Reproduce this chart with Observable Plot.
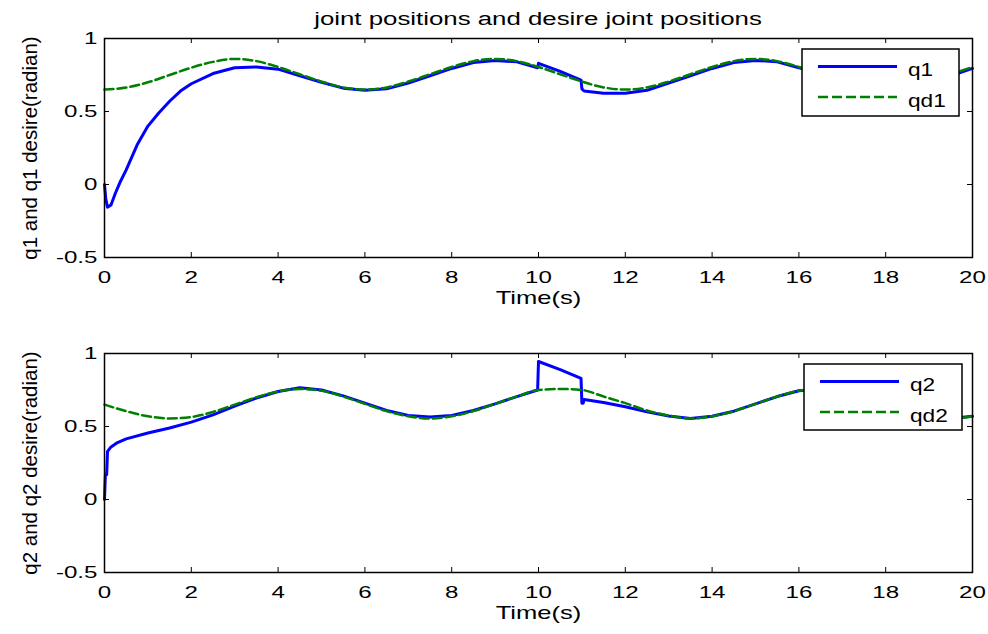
<!DOCTYPE html>
<html>
<head>
<meta charset="utf-8">
<script src="https://cdn.jsdelivr.net/npm/d3@7"></script>
<script src="https://cdn.jsdelivr.net/npm/@observablehq/plot@0.6"></script>
<style>
  body { margin: 0; background: #fff; }
  #wrap { position: relative; width: 988px; height: 634px; background: #fff;
          font-family: "Liberation Sans", Arial, sans-serif; }
  #wrap svg { position: absolute; left: 0; }
</style>
</head>
<body>
<div id="wrap"></div>
<script>
// ---------- chart text ----------
const title = "joint positions and desire joint positions";
const xLabel = "Time(s)";
const yLabels = ["q1 and q1 desire(radian)", "q2 and q2 desire(radian)"];
const legend1 = ["q1", "qd1"];
const legend2 = ["q2", "qd2"];

// ---------- ticks ----------
const xTicks = [0, 2, 4, 6, 8, 10, 12, 14, 16, 18, 20];
const yTicks = [-0.5, 0, 0.5, 1];
const yTickLabels = ["-0.5", "0", "0.5", "1"];

// ---------- desired trajectories (sampled every 0.5 s) ----------
const tGrid = [0,0.5,1,1.5,2,2.5,3,3.5,4,4.5,5,5.5,6,6.5,7,7.5,8,8.5,9,9.5,10,
               10.5,11,11.5,12,12.5,13,13.5,14,14.5,15,15.5,16,16.5,17,17.5,18,18.5,19,19.5,20];
const qd1 = [0.650,0.664,0.700,0.750,0.800,0.840,0.860,0.845,0.805,0.755,0.705,0.665,0.650,
             0.665,0.705,0.755,0.805,0.845,0.860,0.845,0.805,0.755,0.705,0.665,0.650,
             0.665,0.705,0.755,0.805,0.845,0.860,0.845,0.805,0.755,0.705,0.665,0.650,
             0.665,0.705,0.755,0.805];
const qd2 = [0.650,0.605,0.570,0.555,0.565,0.600,0.650,0.700,0.740,0.757,0.745,0.705,0.655,
             0.605,0.570,0.555,0.570,0.605,0.655,0.705,0.750,0.757,0.750,0.705,0.660,
             0.610,0.575,0.555,0.570,0.605,0.655,0.705,0.745,0.757,0.745,0.705,0.655,
             0.605,0.570,0.555,0.570];

// ---------- actual joint positions ----------
const tQ1 = [0,0.03,0.07,0.15,0.25,0.35,0.5,0.75,1,1.25,1.5,1.75,2,2.5,3,3.5,4,4.5,5,5.5,6,
             6.5,7,7.5,8,8.5,9,9.5,9.98,10,10.5,10.98,11,11.05,11.5,12,12.5,13,13.5,14,14.5,
             15,15.5,16,16.5,17,17.5,18,18.5,19,19.5,20];
const q1 = [0,-0.10,-0.155,-0.14,-0.06,0.01,0.10,0.27,0.40,0.49,0.57,0.64,0.69,0.76,0.80,0.805,
            0.79,0.745,0.70,0.66,0.645,0.655,0.695,0.745,0.795,0.835,0.85,0.84,0.80,0.83,0.775,
            0.715,0.655,0.64,0.625,0.625,0.645,0.695,0.745,0.795,0.835,0.85,0.84,0.80,0.75,0.70,
            0.66,0.645,0.655,0.695,0.745,0.795];
const tQ2 = [0,0.02,0.05,0.07,0.15,0.3,0.5,1,1.5,2,2.5,3,3.5,4,4.5,5,5.5,6,6.5,7,7.5,8,8.5,9,
             9.5,9.98,10,10.5,10.98,11,11.03,11.05,11.5,12,12.5,13,13.5,14,14.5,15,15.5,16,
             16.5,17,17.5,18,18.5,19,19.5,20];
const q2 = [0,0.17,0.17,0.33,0.36,0.39,0.415,0.455,0.49,0.53,0.58,0.64,0.695,0.74,0.765,0.75,
            0.71,0.66,0.61,0.575,0.565,0.575,0.61,0.655,0.705,0.75,0.945,0.89,0.83,0.66,0.66,
            0.685,0.665,0.635,0.60,0.572,0.555,0.57,0.605,0.655,0.705,0.745,0.757,0.745,0.705,
            0.655,0.605,0.57,0.555,0.57];

const BLUE = "#0000ff", GREEN = "#008000";
const FONT = "Liberation Sans, Arial, Helvetica, sans-serif";
const SX = 1.42; // horizontal stretch of the reference text
const W = 988, H = 310, ML = 104, MR = 16, MT = 38, MB = 53;
const FW = W - ML - MR, FH = H - MT - MB, TK = 5;

function panel(tA, A, tD, D, ylab) {
  const svg = Plot.plot({
    width: W, height: H,
    marginLeft: ML, marginRight: MR, marginTop: MT, marginBottom: MB,
    x: {domain: [0, 20]},
    y: {domain: [-0.5, 1]},
    style: {fontFamily: FONT, fontSize: "17px", color: "black", background: "transparent", overflow: "visible"},
    marks: [
      Plot.line(tA.map((t, i) => [t, A[i]]), {stroke: BLUE, strokeWidth: 3, strokeLinejoin: "round"}),
      Plot.line(tD.map((t, i) => [t, D[i]]), {stroke: GREEN, strokeWidth: 2.5, strokeDasharray: "9,4", curve: "monotone-x"}),
      // inward tick marks on all four sides
      Plot.tickX(xTicks, {x: d => d, stroke: "black", strokeWidth: 1, insetTop: FH - TK}),
      Plot.tickX(xTicks, {x: d => d, stroke: "black", strokeWidth: 1, insetBottom: FH - TK}),
      Plot.tickY(yTicks, {y: d => d, stroke: "black", strokeWidth: 1, insetRight: FW - TK}),
      Plot.tickY(yTicks, {y: d => d, stroke: "black", strokeWidth: 1, insetLeft: FW - TK}),
      Plot.frame({stroke: "black", strokeWidth: 1.5}),
      Plot.axisX({ticks: xTicks, tickSize: 0, tickPadding: 13, fontSize: 17, label: null, tickFormat: d => String(d)}),
      Plot.axisY({ticks: yTicks, tickSize: 0, tickPadding: 7, fontSize: 17, label: null,
                  tickFormat: d => yTickLabels[yTicks.indexOf(d)]}),
      Plot.text([xLabel], {frameAnchor: "bottom", dy: 46, fontSize: 18, fill: "black"}),
      Plot.text([ylab], {frameAnchor: "left", textAnchor: "middle", dx: -74, rotate: -90, fontSize: 20.5, fill: "black"})
    ]
  });
  svg.querySelectorAll("text").forEach(t => {
    const tr = t.getAttribute("transform") || "";
    if (!tr.includes("rotate") && !(t.parentNode.getAttribute("transform") || "").includes("rotate")) {
      t.setAttribute("transform", tr + ` scale(${SX},1)`);
    }
  });
  return svg;
}

const wrap = document.getElementById("wrap");
const p1 = panel(tQ1, q1, tGrid, qd1, yLabels[0]);
p1.style.top = "0px";
const p2 = panel(tQ2, q2, tGrid, qd2, yLabels[1]);
p2.style.top = "315px";
wrap.appendChild(p1);
wrap.appendChild(p2);

// ---------- overlay: title and legends ----------
const ov = d3.create("svg").attr("width", 988).attr("height", 634)
  .style("top", "0px").style("font-family", FONT);
ov.append("text").attr("transform", `translate(538,25) scale(1.36,1)`)
  .attr("text-anchor", "middle").attr("font-size", 19).attr("fill", "black").text(title);

function legend(labels, x0, y0, x1, y1) {
  const g = ov.append("g");
  g.append("rect").attr("x", x0).attr("y", y0).attr("width", x1 - x0).attr("height", y1 - y0)
    .attr("fill", "white").attr("stroke", "black").attr("stroke-width", 1.5);
  const rowY = [y0 + 17.5, y0 + 48];
  const styles = [{c: BLUE, w: 3, d: null}, {c: GREEN, w: 2.5, d: "10,4"}];
  labels.forEach((lab, i) => {
    g.append("line").attr("x1", x0 + 16).attr("x2", x0 + 95).attr("y1", rowY[i]).attr("y2", rowY[i])
      .attr("stroke", styles[i].c).attr("stroke-width", styles[i].w)
      .attr("stroke-dasharray", styles[i].d);
    g.append("text").attr("transform", `translate(${x0 + 106},${rowY[i] + 9.5}) scale(1.26,1)`)
      .attr("font-size", 18).attr("fill", "black").text(lab);
  });
}
legend(legend1, 802, 49, 959, 116);
legend(legend2, 804, 364, 962, 430);
wrap.appendChild(ov.node());
</script>
</body>
</html>
